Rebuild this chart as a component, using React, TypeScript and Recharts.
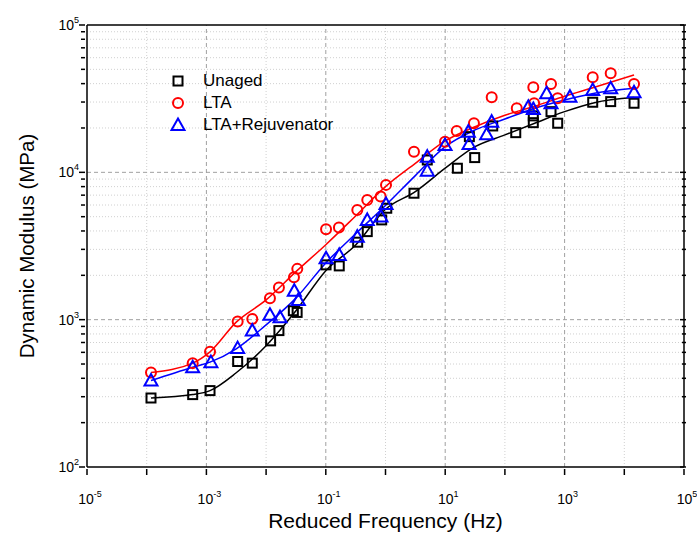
import { ComposedChart, Scatter, Line, XAxis, YAxis, ReferenceLine } from 'recharts';

// measured points
const unagedFreq = [1.18e-4, 5.89e-4, 1.15e-3, 3.34e-3, 5.87e-3, 0.0119, 0.0164, 0.0286, 0.0331, 0.101, 0.168, 0.342, 0.495, 0.863, 1.05, 3.0, 5.01, 16.0, 25.4, 31.2, 62.5, 152, 299, 299, 592, 766, 2958, 5916, 14555];
const unagedModulus = [294, 310, 330, 520, 507, 718, 843, 1150, 1120, 2355, 2317, 3356, 3960, 4755, 5705, 7214, 12130, 10660, 17470, 12590, 20640, 18590, 21730, 24160, 25810, 21540, 29900, 30200, 29440];

const ltaFreq = [1.18e-4, 5.89e-4, 1.15e-3, 3.34e-3, 5.87e-3, 0.0116, 0.0164, 0.0293, 0.0333, 0.101, 0.166, 0.337, 0.495, 0.83, 1.02, 3.0, 9.93, 15.6, 30.3, 60.1, 158, 299, 309, 592, 766, 2958, 5916, 14555];
const ltaModulus = [438, 507, 605, 971, 1012, 1400, 1651, 1943, 2212, 4110, 4220, 5560, 6500, 6845, 8220, 13810, 16150, 19100, 21540, 32300, 27210, 37790, 29440, 39810, 31820, 44190, 47000, 39810];

const rejFreq = [1.18e-4, 5.89e-4, 1.19e-3, 3.34e-3, 5.87e-3, 0.0116, 0.0171, 0.0297, 0.0347, 0.101, 0.168, 0.337, 0.495, 0.84, 1.02, 5.01, 5.01, 9.93, 24.4, 25.1, 49.5, 60.1, 247, 299, 501, 592, 1230, 2958, 5916, 14555];
const rejModulus = [386, 476, 515, 641, 843, 1078, 1040, 1574, 1362, 2612, 2752, 3660, 4755, 5010, 6105, 12780, 10270, 15350, 18890, 15580, 18140, 22080, 27900, 26920, 34400, 29440, 32640, 36230, 37150, 34900];

// fitted master curves
const fitFreq = [1.18e-4, 5.89e-4, 1.15e-3, 3.16e-3, 0.01, 0.0316, 0.1, 0.316, 1, 3.16, 10, 31.6, 100, 316, 1000, 3160, 14555];
const unagedFit = [294, 310, 330, 436, 665, 1148, 2150, 3214, 5620, 7400, 10670, 14930, 17950, 21540, 25810, 29700, 32150];
const ltaFit = [438, 507, 605, 962, 1361, 2118, 3228, 5060, 8000, 11500, 16330, 20400, 24390, 28120, 32800, 37760, 45820];
const rejFit = [386, 476, 515, 634, 922, 1400, 2427, 3830, 5960, 9500, 14930, 19400, 23000, 27210, 30970, 34420, 37150];

const xTicks = [1e-5, 1e-4, 1e-3, 1e-2, 1e-1, 1, 1e1, 1e2, 1e3, 1e4, 1e5];
const yTicks = [100, 200, 300, 400, 500, 600, 700, 800, 900, 1000, 2000, 3000, 4000, 5000, 6000, 7000, 8000, 9000, 10000, 20000, 30000, 40000, 50000, 60000, 70000, 80000, 90000, 100000];
const xGridMajor = [1e-3, 1e-1, 1e1, 1e3];
const xGridMinor = [1e-4, 1e-2, 1, 1e2, 1e4];
const yGridMajor = [1000, 10000];
const yGridMinor = [200, 300, 400, 500, 600, 700, 800, 900, 2000, 3000, 4000, 5000, 6000, 7000, 8000, 9000, 20000, 30000, 40000, 50000, 60000, 70000, 80000, 90000];

const zip = (fs: number[], es: number[]) => fs.map((f, i) => ({ f, E: es[i] }));
const unagedData = zip(unagedFreq, unagedModulus);
const ltaData = zip(ltaFreq, ltaModulus);
const rejData = zip(rejFreq, rejModulus);
const unagedFitData = zip(fitFreq, unagedFit);
const ltaFitData = zip(fitFreq, ltaFit);
const rejFitData = zip(fitFreq, rejFit);

const FONT = '"Liberation Sans", Arial, sans-serif';

const isDecade = (v: number) => Math.abs(Math.log10(v) - Math.round(Math.log10(v))) < 1e-6;

const Pow = ({ x, y, exp, anchor }: any) => (
  <text x={x} y={y} textAnchor={anchor} fontFamily={FONT} fill="#000">
    <tspan fontSize={14}>10</tspan>
    <tspan fontSize={9} dy={-7}>{exp}</tspan>
  </text>
);

const XTick = (props: any) => {
  const { x, y, payload } = props;
  const e = Math.round(Math.log10(payload.value));
  return (
    <g>
      <line x1={x} y1={y} x2={x} y2={y + 6} stroke="#000" strokeWidth={1.5} />
      {e % 2 !== 0 && <Pow x={x + 3} y={y + 35} exp={e} anchor="middle" />}
    </g>
  );
};

const YTick = (props: any) => {
  const { x, y, payload } = props;
  const major = isDecade(payload.value);
  const e = Math.round(Math.log10(payload.value));
  return (
    <g>
      <line x1={x - (major ? 6 : 4)} y1={y} x2={x} y2={y} stroke="#000" strokeWidth={1.5} />
      {major && <Pow x={x - 6} y={y + 5} exp={e} anchor="end" />}
    </g>
  );
};

const RightTick = (props: any) => {
  const { x, y, payload } = props;
  const major = isDecade(payload.value);
  return <line x1={x} y1={y} x2={x - (major ? 6 : 4)} y2={y} stroke="#000" strokeWidth={1.5} />;
};

const Square = ({ cx, cy }: any) => (
  <rect x={cx - 4.5} y={cy - 4.5} width={9} height={9} fill="none" stroke="#000" strokeWidth={2} />
);
const Circle = ({ cx, cy }: any) => <circle cx={cx} cy={cy} r={5} fill="none" stroke="#ff0000" strokeWidth={2} />;
const Triangle = ({ cx, cy }: any) => (
  <polygon points={`${cx},${cy - 6.5} ${cx + 6.5},${cy + 5} ${cx - 6.5},${cy + 5}`} fill="none" stroke="#0000ff" strokeWidth={2} />
);

const legendItems = [
  { label: 'Unaged', Marker: Square },
  { label: 'LTA', Marker: Circle },
  { label: 'LTA+Rejuvenator', Marker: Triangle },
];

function App() {
  return (
    <div style={{ position: 'relative', width: 697, height: 537 }}>
      <style>{'body{margin:0;background:#fff}'}</style>
      <ComposedChart width={697} height={537} margin={{ top: 25, right: 0, bottom: 0, left: 0 }}>
        {xGridMinor.map((v) => (
          <ReferenceLine key={'xm' + v} x={v} stroke="#d0d0d0" strokeDasharray="1 2" />
        ))}
        {yGridMinor.map((v) => (
          <ReferenceLine key={'ym' + v} y={v} stroke="#d0d0d0" strokeDasharray="1 2" />
        ))}
        {xGridMajor.map((v) => (
          <ReferenceLine key={'xM' + v} x={v} stroke="#a0a0a0" strokeDasharray="4 3" />
        ))}
        {yGridMajor.map((v) => (
          <ReferenceLine key={'yM' + v} y={v} stroke="#a0a0a0" strokeDasharray="4 3" />
        ))}
        <ReferenceLine y={100000} stroke="#000" strokeWidth={1.5} />
        <XAxis
          dataKey="f"
          type="number"
          scale="log"
          domain={[1e-5, 1e5]}
          allowDataOverflow
          ticks={xTicks}
          interval={0}
          height={70}
          tickSize={0}
          tickLine={false}
          tick={<XTick />}
          axisLine={{ stroke: '#000', strokeWidth: 1.5 }}
          label={{ value: 'Reduced Frequency (Hz)', position: 'insideBottom', offset: 9, fontSize: 21, fill: '#000', fontFamily: FONT }}
        />
        <YAxis
          dataKey="E"
          type="number"
          scale="log"
          domain={[100, 100000]}
          allowDataOverflow
          ticks={yTicks}
          interval={0}
          width={87}
          tickSize={0}
          tickLine={false}
          tick={<YTick />}
          axisLine={{ stroke: '#000', strokeWidth: 1.5 }}
          label={{ value: 'Dynamic Modulus (MPa)', angle: -90, position: 'insideLeft', offset: 27, fontSize: 20.5, fill: '#000', fontFamily: FONT, style: { textAnchor: 'middle' } }}
        />
        <YAxis
          yAxisId="right"
          orientation="right"
          type="number"
          scale="log"
          domain={[100, 100000]}
          allowDataOverflow
          ticks={yTicks}
          interval={0}
          width={13}
          tickSize={0}
          tickLine={false}
          tick={<RightTick />}
          axisLine={{ stroke: '#000', strokeWidth: 1.5 }}
        />
        <Line data={unagedFitData} dataKey="E" type="monotone" stroke="#000" strokeWidth={1.5} dot={false} isAnimationActive={false} />
        <Line data={ltaFitData} dataKey="E" type="monotone" stroke="#ff0000" strokeWidth={1.5} dot={false} isAnimationActive={false} />
        <Line data={rejFitData} dataKey="E" type="monotone" stroke="#0000ff" strokeWidth={1.5} dot={false} isAnimationActive={false} />
        <Scatter name="Unaged" data={unagedData} shape={Square} isAnimationActive={false} />
        <Scatter name="LTA" data={ltaData} shape={Circle} isAnimationActive={false} />
        <Scatter name="LTA+Rejuvenator" data={rejData} shape={Triangle} isAnimationActive={false} />
      </ComposedChart>
      <div style={{ position: 'absolute', left: 169, top: 70, fontFamily: FONT, fontSize: 17, color: '#000' }}>
        {legendItems.map(({ label, Marker }) => (
          <div key={label} style={{ display: 'flex', alignItems: 'center', height: 22 }}>
            <svg width={18} height={18} style={{ marginRight: 16 }}>
              <Marker cx={9} cy={9} />
            </svg>
            <span>{label}</span>
          </div>
        ))}
      </div>
    </div>
  );
}

export default App;
